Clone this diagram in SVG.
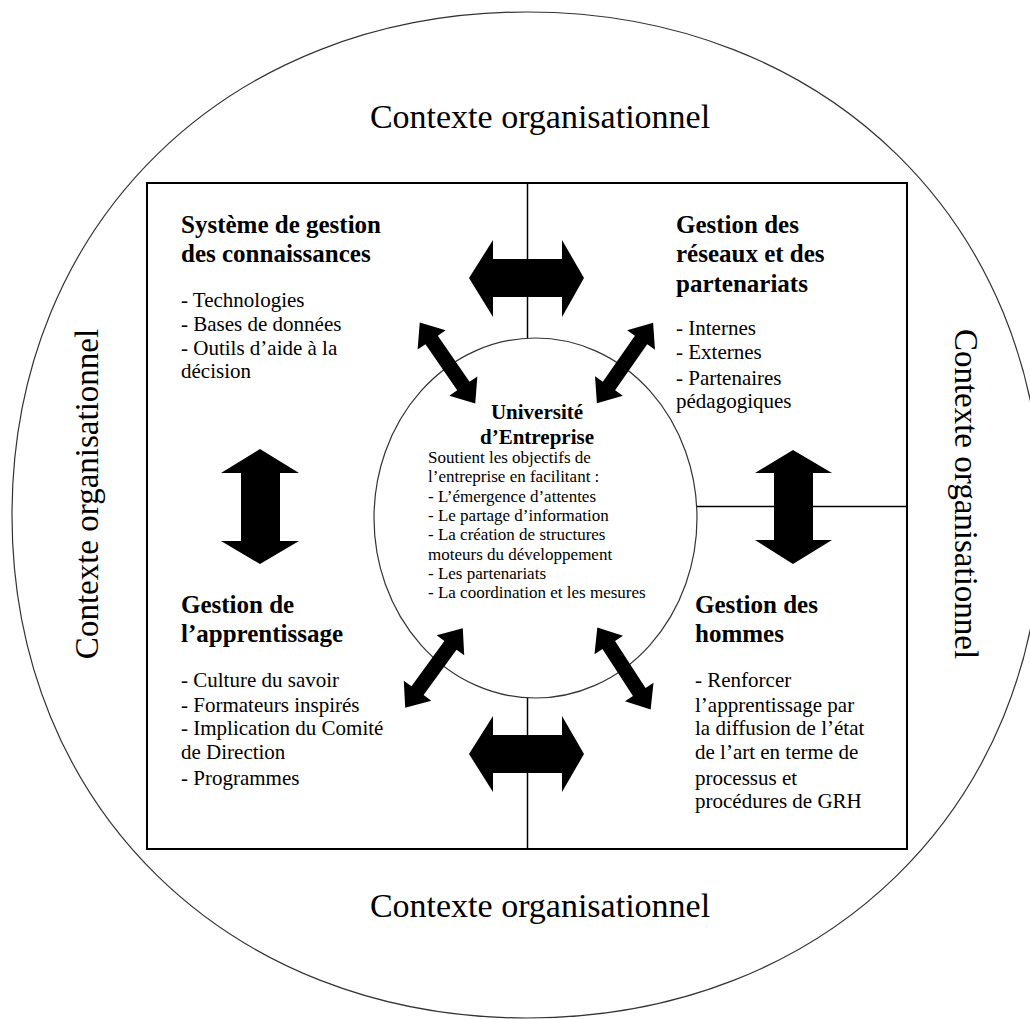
<svg xmlns="http://www.w3.org/2000/svg" xmlns:xlink="http://www.w3.org/1999/xlink" width="1030" height="1019" viewBox="0 0 1030 1019">
<style>
text{font-family:"Liberation Serif","Times New Roman",serif;fill:#000}
.ctx{font-size:34px}
.ctxs{font-size:33px}
.h{font-size:25px;font-weight:bold}
.b{font-size:21px}
.ch{font-size:21px;font-weight:bold}
.cb{font-size:17px}
.thin{fill:none;stroke:#333;stroke-width:1.2}
.line{fill:none;stroke:#000;stroke-width:1.5}
.arr{fill:#000;stroke:none}
</style>
<defs>
<path id="darr" d="M-49,0 L-28,-17 L-28,-7.5 L28,-7.5 L28,-17 L49,0 L28,17 L28,7.5 L-28,7.5 L-28,17 Z"/>
</defs>
<rect width="1030" height="1019" fill="#fff"/>
<g id="context">
<path class="thin" d="M12,515 C12,223.3 228.3,12 527,12 C825.7,12 1042,223.3 1042,515 C1042,806.7 825.7,1018 527,1018 C228.3,1018 12,806.7 12,515 Z"/>
<text class="ctx" x="540" y="128" text-anchor="middle">Contexte organisationnel</text>
<text class="ctx" x="540" y="917" text-anchor="middle">Contexte organisationnel</text>
<text class="ctxs" transform="translate(98,494) rotate(-90)" text-anchor="middle">Contexte organisationnel</text>
<text class="ctxs" transform="translate(955,494) rotate(90)" text-anchor="middle">Contexte organisationnel</text>
</g>
<g id="frame">
<rect x="147" y="183" width="760" height="666" fill="none" stroke="#000" stroke-width="2"/>
<line class="line" x1="527.5" y1="183" x2="527.5" y2="338"/>
<line class="line" x1="527.5" y1="698" x2="527.5" y2="849"/>
<line class="line" x1="697" y1="506.5" x2="907" y2="506.5"/>
</g>
<g id="systeme-gestion-connaissances">
<text class="h" x="181" y="233">Système de gestion</text>
<text class="h" x="181" y="262">des connaissances</text>
<text class="b" x="181" y="307">- Technologies</text>
<text class="b" x="181" y="331">- Bases de données</text>
<text class="b" x="181" y="355">- Outils d’aide à la</text>
<text class="b" x="181" y="378">décision</text>
</g>
<g id="gestion-reseaux">
<text class="h" x="676" y="233">Gestion des</text>
<text class="h" x="676" y="262">réseaux et des</text>
<text class="h" x="676" y="292">partenariats</text>
<text class="b" x="676" y="335">- Internes</text>
<text class="b" x="676" y="359">- Externes</text>
<text class="b" x="676" y="385">- Partenaires</text>
<text class="b" x="676" y="408">pédagogiques</text>
</g>
<g id="gestion-apprentissage">
<text class="h" x="181" y="613">Gestion de</text>
<text class="h" x="181" y="642">l’apprentissage</text>
<text class="b" x="181" y="687">- Culture du savoir</text>
<text class="b" x="181" y="712">- Formateurs inspirés</text>
<text class="b" x="181" y="735">- Implication du Comité</text>
<text class="b" x="181" y="759">de Direction</text>
<text class="b" x="181" y="785">- Programmes</text>
</g>
<g id="gestion-hommes">
<text class="h" x="695" y="613">Gestion des</text>
<text class="h" x="695" y="642">hommes</text>
<text class="b" x="695" y="687">- Renforcer</text>
<text class="b" x="695" y="712">l’apprentissage par</text>
<text class="b" x="695" y="735">la diffusion de l’état</text>
<text class="b" x="695" y="759">de l’art en terme de</text>
<text class="b" x="695" y="785">processus et</text>
<text class="b" x="695" y="808">procédures de GRH</text>
</g>
<g id="universite-entreprise">
<ellipse class="thin" cx="535.5" cy="518" rx="161.5" ry="180"/>
<text class="ch" x="537" y="419" text-anchor="middle">Université</text>
<text class="ch" x="537" y="444" text-anchor="middle">d’Entreprise</text>
<text class="cb" x="428" y="463">Soutient les objectifs de</text>
<text class="cb" x="428" y="482.3">l’entreprise en facilitant :</text>
<text class="cb" x="428" y="501.6">- L’émergence d’attentes</text>
<text class="cb" x="428" y="520.9">- Le partage d’information</text>
<text class="cb" x="428" y="540.2">- La création de structures</text>
<text class="cb" x="428" y="559.5">moteurs du développement</text>
<text class="cb" x="428" y="578.8">- Les partenariats</text>
<text class="cb" x="428" y="598.1">- La coordination et les mesures</text>
</g>
<g id="connectors">
<path class="arr" d="M469,278 L493,240 L493,259 L562,259 L562,240 L584,278 L562,317 L562,297 L493,297 L493,317 Z"/>
<path class="arr" d="M469,754 L493,716 L493,735 L562,735 L562,716 L584,754 L562,792 L562,773 L493,773 L493,792 Z"/>
<path class="arr" d="M260,449 L299,473 L280,473 L280,541 L299,541 L260,564 L221,541 L241,541 L241,473 L221,473 Z"/>
<path class="arr" d="M793,450 L832,473 L813,473 L813,540 L832,540 L793,564 L755,540 L774,540 L774,473 L755,473 Z"/>
<use xlink:href="#darr" class="arr" transform="translate(447.5,363) rotate(55.5)"/>
<use xlink:href="#darr" class="arr" transform="translate(625,363) rotate(-55)"/>
<use xlink:href="#darr" class="arr" transform="translate(434,668) rotate(-54)"/>
<use xlink:href="#darr" class="arr" transform="translate(624,668.5) rotate(57)"/>
</g>
</svg>
